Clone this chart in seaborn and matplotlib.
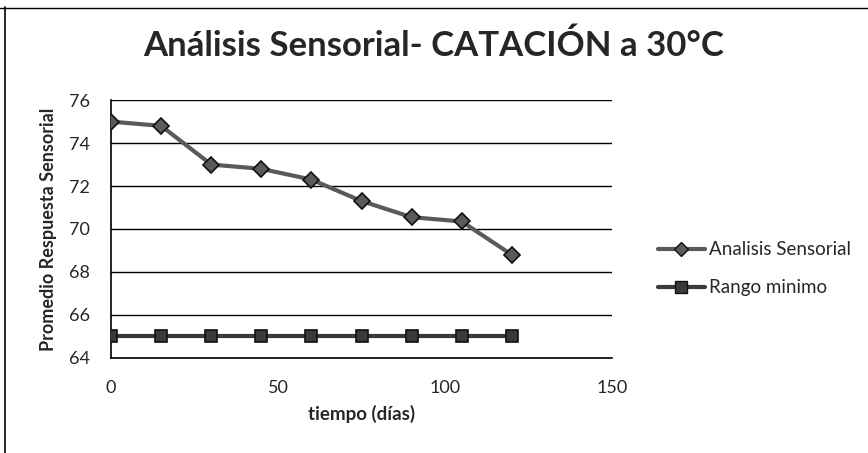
import numpy as np
import pandas as pd
import matplotlib
matplotlib.use("Agg")
import matplotlib.pyplot as plt
from matplotlib.lines import Line2D
import seaborn as sns

# values
dias = [0, 15, 30, 45, 60, 75, 90, 105, 120]
analisis = [75.0, 74.8, 73.0, 72.8, 72.3, 71.3, 70.55, 70.35, 68.8]
rango_min = [65, 65, 65, 65, 65, 65, 65, 65, 65]
y_ticks = [64, 66, 68, 70, 72, 74, 76]
x_ticks = [0, 50, 100, 150]

sns.set_style("white")
plt.rcParams['font.family'] = ['Lato', 'DejaVu Sans']

df = pd.DataFrame({
    "tiempo": dias * 2,
    "valor": analisis + rango_min,
    "serie": ["Analisis Sensorial"] * len(dias) + ["Rango minimo"] * len(dias),
})

fig = plt.figure(figsize=(8.68, 4.53), dpi=100)
ax = fig.add_axes([0.128, 0.210, 0.577, 0.569])

sns.lineplot(data=df, x="tiempo", y="valor", hue="serie", style="serie",
             markers={"Analisis Sensorial": "D", "Rango minimo": "s"},
             dashes=False, palette={"Analisis Sensorial": "#5a5a5a", "Rango minimo": "#3a3a3a"},
             linewidth=3, markersize=8, markeredgecolor="#111111", markeredgewidth=1.2,
             ax=ax, legend=False, zorder=3)

ax.set_xlim(0, 150)
ax.set_ylim(64, 76)
ax.set_xticks(x_ticks)
ax.set_yticks(y_ticks)
ax.yaxis.grid(True, color="black", linewidth=1)
ax.xaxis.grid(False)
for s in ["top", "right"]:
    ax.spines[s].set_visible(False)
for s in ["left", "bottom"]:
    ax.spines[s].set_color("black")
    ax.spines[s].set_linewidth(1.2)
ax.tick_params(axis="y", length=3, color="black", labelsize=13, pad=12)
ax.tick_params(axis="x", length=0, labelsize=13, pad=16)

ax.set_xlabel("tiempo (días)", fontsize=13.5, fontweight="bold", labelpad=6)
ax.set_ylabel("Promedio Respuesta Sensorial", fontsize=13, fontweight="bold", labelpad=9)

fig.text(0.5, 0.90, "Análisis Sensorial- CATACIÓN a 30°C", ha="center", va="center",
         fontsize=25, fontweight="bold")

handles = [
    Line2D([], [], color="#5a5a5a", lw=3, marker="D", markersize=7,
           markeredgecolor="#111111"),
    Line2D([], [], color="#3a3a3a", lw=3, marker="s", markersize=8,
           markeredgecolor="#111111"),
]
fig.legend(handles, ["Analisis Sensorial", "Rango minimo"], loc="center left",
           bbox_to_anchor=(0.758, 0.407), frameon=False, fontsize=13.5,
           handlelength=2.5, handletextpad=0.2, labelspacing=1.12, borderaxespad=0,
           borderpad=0)

# chart-area border fragments (left and top)
fig.add_artist(Line2D([0.006, 0.006], [0, 0.985], color="black", lw=1.2))
fig.add_artist(Line2D([0, 1], [0.983, 0.983], color="black", lw=1.0))

fig.savefig("out.png", dpi=100)
